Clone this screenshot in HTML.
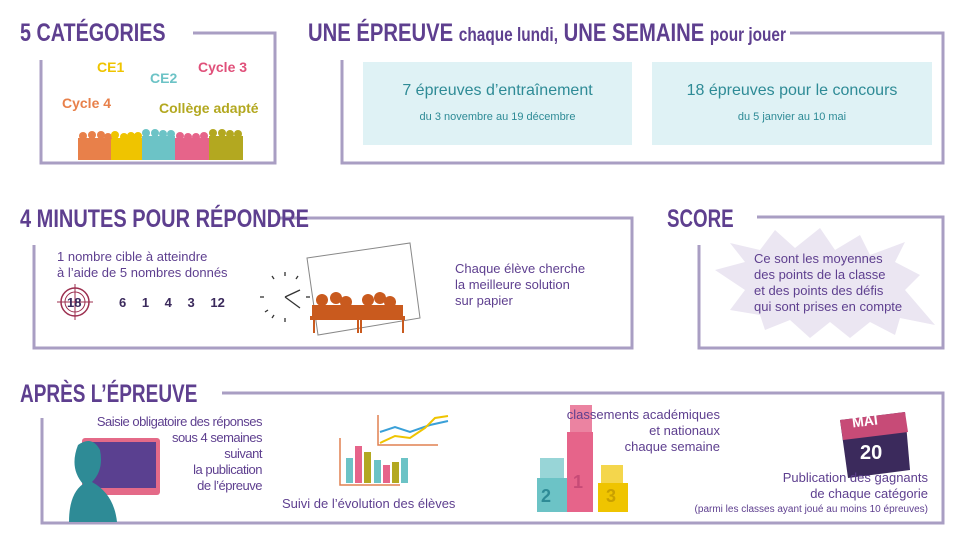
<!DOCTYPE html>
<html><head><meta charset="utf-8">
<style>
body{margin:0;width:980px;height:558px;background:#fff;position:relative;overflow:hidden;font-family:"Liberation Sans",sans-serif}
.t{position:absolute;white-space:nowrap}
.h{font-family:"Liberation Sans",sans-serif;font-weight:bold;color:#5e3f8f;font-size:25px;line-height:25px;transform-origin:0 0}
.h small{font-size:19px;font-weight:bold}
.p{color:#5e3f8f;font-size:13px;line-height:16px}
.c{text-align:center}
.r{text-align:right}
svg{position:absolute;left:0;top:0}
</style></head><body>
<svg width="980" height="558" viewBox="0 0 980 558">
<g fill="none" stroke="#a99ec3" stroke-width="3">
<polyline points="193,33 275,33 275,163 41,163 41,60"/>
<polyline points="790,33 943,33 943,163 342,163 342,60"/>
<polyline points="278,218 632,218 632,348 34,348 34,245"/>
<polyline points="757,217 943,217 943,348 699,348 699,245"/>
<polyline points="222,393 943,393 943,523 42,523 42,418"/>
</g>
<rect x="363" y="62" width="269" height="83" fill="#dff2f5"/>
<rect x="652" y="62" width="280" height="83" fill="#dff2f5"/>
<polygon fill="#ebe6f2" points="730,243 760,250 775,230 795,248 820,228 835,250 860,235 870,255 905,242 895,262 920,275 905,290 935,325 900,318 895,335 870,322 850,338 830,322 810,338 790,320 765,330 760,315 730,310 745,290 715,270 745,262"/>
<!-- people -->
<g>
<rect x="78" y="138" width="33" height="22" fill="#e8804a"/>
<rect x="111" y="138" width="31" height="22" fill="#efc400"/>
<rect x="142" y="136" width="33" height="24" fill="#6cc3c6"/>
<rect x="175" y="138" width="34" height="22" fill="#e6648a"/>
<rect x="209" y="136" width="34" height="24" fill="#b3a820"/>
<g fill="#e8804a"><circle cx="83" cy="136" r="4"/><circle cx="92" cy="135" r="4"/><circle cx="101" cy="135" r="4"/><circle cx="108" cy="137" r="4"/></g>
<g fill="#efc400"><circle cx="115" cy="135" r="4"/><circle cx="124" cy="137" r="4"/><circle cx="131" cy="136" r="4"/><circle cx="138" cy="136" r="4"/></g>
<g fill="#6cc3c6"><circle cx="146" cy="133" r="4"/><circle cx="155" cy="133" r="4"/><circle cx="163" cy="134" r="4"/><circle cx="171" cy="134" r="4"/></g>
<g fill="#e6648a"><circle cx="180" cy="136" r="4"/><circle cx="188" cy="137" r="4"/><circle cx="196" cy="137" r="4"/><circle cx="204" cy="136" r="4"/></g>
<g fill="#b3a820"><circle cx="213" cy="133" r="4"/><circle cx="222" cy="133" r="4"/><circle cx="230" cy="134" r="4"/><circle cx="238" cy="134" r="4"/></g>
</g>
<!-- target -->
<circle cx="75" cy="302" r="14" fill="none" stroke="#9c2f4f" stroke-width="1.5"/>
<circle cx="75" cy="302" r="10" fill="none" stroke="#9c2f4f" stroke-width="1"/>
<line x1="57" y1="302" x2="93" y2="302" stroke="#9c2f4f"/><line x1="75" y1="284" x2="75" y2="320" stroke="#9c2f4f"/>
<!-- clock -->
<g stroke="#333" stroke-width="1.3">
<line x1="285" y1="297" x2="300" y2="290"/><line x1="285" y1="297" x2="300" y2="308"/>
<line x1="285" y1="272" x2="285" y2="276"/><line x1="285" y1="318" x2="285" y2="322"/>
<line x1="260" y1="297" x2="264" y2="297"/><line x1="306" y1="297" x2="310" y2="297"/>
<line x1="272" y1="276" x2="274" y2="279"/><line x1="298" y1="276" x2="296" y2="279"/>
<line x1="265" y1="312" x2="268" y2="310"/><line x1="272" y1="318" x2="274" y2="315"/>
</g>
<polygon points="307,258 410,243 420,318 318,335" fill="#fff" stroke="#888" stroke-width="1"/>
<g fill="#c95a1e">
<circle cx="322" cy="300" r="6"/><circle cx="336" cy="298" r="6"/><circle cx="346" cy="302" r="6"/>
<circle cx="368" cy="300" r="6"/><circle cx="380" cy="298" r="6"/><circle cx="390" cy="302" r="6"/>
<rect x="312" y="305" width="48" height="12"/><rect x="357" y="305" width="46" height="12"/>
<rect x="310" y="316" width="52" height="4"/><rect x="355" y="316" width="50" height="4"/>
<rect x="313" y="320" width="2" height="13"/><rect x="357" y="320" width="2" height="13"/><rect x="360" y="320" width="2" height="13"/><rect x="402" y="320" width="2" height="13"/>
</g>
<!-- monitor -->
<rect x="82" y="438" width="78" height="57" rx="3" fill="#e46a88"/>
<rect x="86" y="442" width="70" height="46" fill="#5a4090"/>
<path d="M78,445 q14,-10 22,5 q4,20 -8,32 q22,12 25,40 l-48,0 q0,-28 14,-38 q-14,-16 -5,-39z" fill="#2e8b96"/>
<!-- charts -->
<g stroke="#e08050" stroke-width="1.5" fill="none">
<polyline points="340,438 340,485 400,485"/><polyline points="378,415 378,445 438,445"/>
</g>
<rect x="346" y="458" width="7" height="25" fill="#6cc3c6"/><rect x="355" y="446" width="7" height="37" fill="#e6648a"/>
<rect x="364" y="452" width="7" height="31" fill="#b3a820"/><rect x="374" y="460" width="7" height="23" fill="#6cc3c6"/>
<rect x="383" y="465" width="7" height="18" fill="#e6648a"/><rect x="392" y="462" width="7" height="21" fill="#b3a820"/><rect x="401" y="458" width="7" height="25" fill="#6cc3c6"/>
<polyline points="380,432 395,427 410,432 430,425 448,421" fill="none" stroke="#3aa0d8" stroke-width="2"/>
<polyline points="380,443 395,436 410,438 425,428 435,418 448,416" fill="none" stroke="#efc400" stroke-width="2"/>
<!-- podium -->
<rect x="567" y="432" width="26" height="80" fill="#e6648a"/><rect x="537" y="478" width="30" height="34" fill="#6cc3c6"/><rect x="598" y="483" width="30" height="29" fill="#efc400"/>
<rect x="570" y="405" width="22" height="27" fill="#e6648a" opacity=".8"/>
<rect x="540" y="458" width="24" height="20" fill="#6cc3c6" opacity=".7"/>
<rect x="601" y="465" width="22" height="18" fill="#efc400" opacity=".7"/>
<!-- calendar -->
<polygon points="840,420 905,412 910,470 848,478" fill="#3b2a5c"/>
<polygon points="840,420 905,412 908,432 843,440" fill="#c74b77"/>
</svg>

<div class="t h" style="left:20px;top:21px;transform:scaleX(.79)">5 CATÉGORIES</div>
<div class="t h" style="left:308px;top:21px;transform:scaleX(.81)">UNE ÉPREUVE <small>chaque lundi,</small> UNE SEMAINE <small>pour jouer</small></div>
<div class="t h" style="left:20px;top:207px;transform:scaleX(.8)">4 MINUTES POUR RÉPONDRE</div>
<div class="t h" style="left:667px;top:207px;transform:scaleX(.75)">SCORE</div>
<div class="t h" style="left:20px;top:382px;transform:scaleX(.76)">APRÈS L’ÉPREUVE</div>

<div class="t" style="left:97px;top:59px;color:#efc400;font-size:14px;font-weight:bold">CE1</div>
<div class="t" style="left:150px;top:70px;color:#6cc3c6;font-size:14px;font-weight:bold">CE2</div>
<div class="t" style="left:198px;top:59px;color:#e0507a;font-size:14px;font-weight:bold">Cycle 3</div>
<div class="t" style="left:62px;top:95px;color:#e8804a;font-size:14px;font-weight:bold">Cycle 4</div>
<div class="t" style="left:159px;top:100px;color:#b3a820;font-size:14px;font-weight:bold">Collège adapté</div>

<div class="t c" style="left:363px;width:269px;top:82px;color:#2e8b96;font-size:16px">7 épreuves d’entraînement</div>
<div class="t c" style="left:363px;width:269px;top:111px;color:#2e8b96;font-size:11px">du 3 novembre au 19 décembre</div>
<div class="t c" style="left:652px;width:280px;top:82px;color:#2e8b96;font-size:16px">18 épreuves pour le concours</div>
<div class="t c" style="left:652px;width:280px;top:111px;color:#2e8b96;font-size:11px">du 5 janvier au 10 mai</div>

<div class="t p" style="left:57px;top:249px">1 nombre cible à atteindre<br>à l’aide de 5 nombres donnés</div>
<div class="t" style="left:67px;top:295px;color:#3b2a5c;font-size:13px;font-weight:bold">18</div>
<div class="t" style="left:119px;top:295px;color:#3b2a5c;font-size:13px;font-weight:bold;word-spacing:12px">6 1 4 3 12</div>
<div class="t p" style="left:455px;top:261px">Chaque élève cherche<br>la meilleure solution<br>sur papier</div>
<div class="t p" style="left:754px;top:251px">Ce sont les moyennes<br>des points de la classe<br>et des points des défis<br>qui sont prises en compte</div>

<div class="t p r" style="left:60px;width:202px;top:414px;line-height:16px;letter-spacing:-.5px">Saisie obligatoire des réponses<br>sous 4 semaines<br>suivant<br>la publication<br>de l’épreuve</div>
<div class="t p" style="left:282px;top:496px">Suivi de l’évolution des élèves</div>
<div class="t p r" style="left:540px;width:180px;top:407px">classements académiques<br>et nationaux<br>chaque semaine</div>
<div class="t" style="left:541px;top:486px;color:#2e8b96;font-size:18px;font-weight:bold">2</div>
<div class="t" style="left:573px;top:472px;color:#c74b77;font-size:18px;font-weight:bold">1</div>
<div class="t" style="left:606px;top:486px;color:#c9a000;font-size:18px;font-weight:bold">3</div>
<div class="t" style="left:852px;top:413px;color:#fff;font-size:14px;font-weight:bold;transform:rotate(-7deg)">MAI</div>
<div class="t" style="left:860px;top:442px;color:#fff;font-size:20px;font-weight:bold">20</div>
<div class="t p r" style="left:700px;width:228px;top:470px">Publication des gagnants<br>de chaque catégorie</div>
<div class="t r" style="left:640px;width:288px;top:504px;color:#5e3f8f;font-size:10px">(parmi les classes ayant joué au moins 10 épreuves)</div>
</body></html>
